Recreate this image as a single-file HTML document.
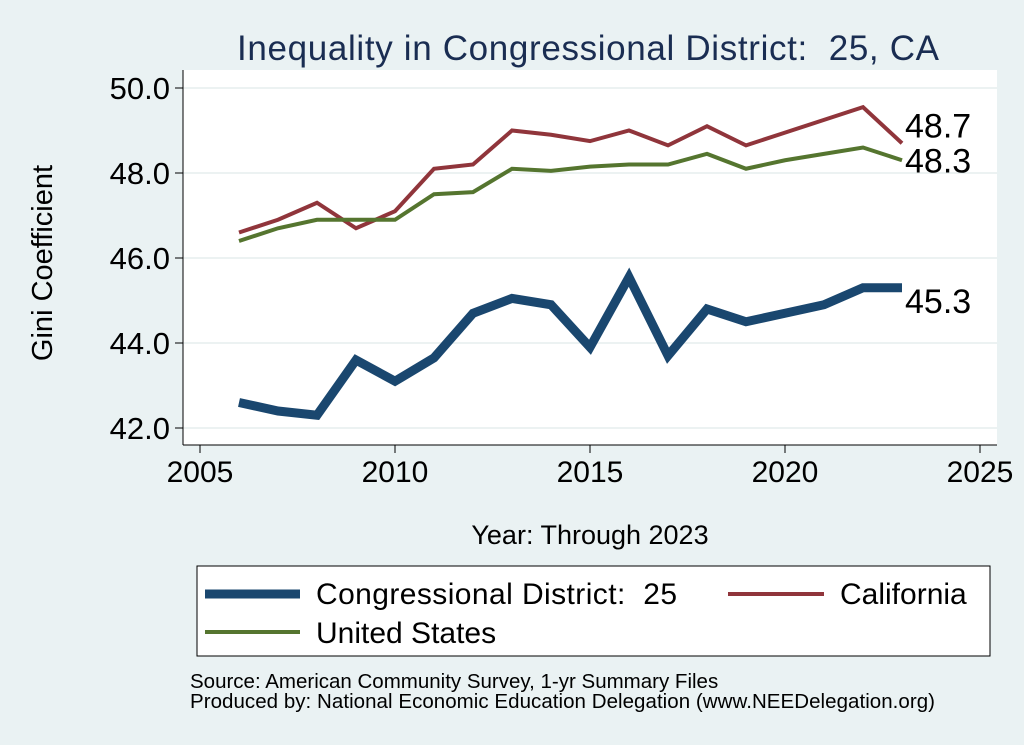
<!DOCTYPE html>
<html><head><meta charset="utf-8"><style>
body{margin:0;background:#eaf2f3;}
svg{display:block;font-family:"Liberation Sans",sans-serif;}
</style></head><body>
<svg id="c" width="1024" height="745">
<rect x="0" y="0" width="1024" height="745" fill="#eaf2f3"/>
<text x="588" y="60" font-size="35" fill="#1a2d52" text-anchor="middle" textLength="702">Inequality in Congressional District:&#160; 25, CA</text>
<rect x="183" y="70" width="814" height="375" fill="#fff"/>
<g id="grid"></g><g id="axes"></g><g id="series"></g>
<text x="52" y="263" font-size="29" fill="#000" text-anchor="middle" transform="rotate(-90 52 263)">Gini Coefficient</text>
<text x="590" y="544" font-size="27" fill="#000" text-anchor="middle">Year: Through 2023</text>
<g>
<rect x="197" y="566" width="793" height="90" fill="#fff" stroke="#000" stroke-width="1"/>
<line x1="205" y1="594" x2="300" y2="594" stroke="#1a476f" stroke-width="9"/>
<text x="316" y="604" font-size="30" textLength="361">Congressional District:&#160; 25</text>
<line x1="728" y1="594" x2="824" y2="594" stroke="#90353b" stroke-width="4"/>
<text x="840" y="604" font-size="30">California</text>
<line x1="205" y1="632" x2="300" y2="632" stroke="#55752f" stroke-width="4"/>
<text x="316" y="643" font-size="30">United States</text>
</g>
<text x="190" y="688" font-size="20.5">Source: American Community Survey, 1-yr Summary Files</text>
<text x="190" y="708" font-size="20.5" textLength="745">Produced by: National Economic Education Delegation (www.NEEDelegation.org)</text>
</svg>
<script>
const years=[2006,2007,2008,2009,2010,2011,2012,2013,2014,2015,2016,2017,2018,2019,2020,2021,2022,2023];
const cd25=[42.6,42.4,42.3,43.6,43.1,43.65,44.7,45.05,44.9,43.9,45.55,43.7,44.8,44.5,44.7,44.9,45.3,45.3];
const california=[46.6,46.9,47.3,46.7,47.1,48.1,48.2,49.0,48.9,48.75,49.0,48.65,49.1,48.65,48.95,49.25,49.55,48.7];
const unitedStates=[46.4,46.7,46.9,46.9,46.9,47.5,47.55,48.1,48.05,48.15,48.2,48.2,48.45,48.1,48.3,48.45,48.6,48.3];
const xTicks=[2005,2010,2015,2020,2025];
const yTicks=[42,44,46,48,50];
const endLabels=["45.3","48.7","48.3"];
const NS="http://www.w3.org/2000/svg";
const X=v=>200+(v-2005)*39;
const Y=v=>428-(v-42)*42.5;
function mk(t,a,p){const e=document.createElementNS(NS,t);for(const k in a)e.setAttribute(k,a[k]);document.getElementById(p).appendChild(e);return e;}
yTicks.forEach(t=>{
 const g=mk('line',{x1:183,x2:997,y1:Y(t),y2:Y(t),stroke:'#e6eeee','stroke-width':1.5},'grid');
 
 
 const k=mk('line',{x1:175,x2:183,y1:Y(t),y2:Y(t),stroke:'#000'},'axes');
 
 
 const l=mk('text',{x:170,y:Y(t)+11,'font-size':31,'text-anchor':'end'},'axes');l.textContent=t.toFixed(1);
 
 
});
xTicks.forEach(t=>{
 const k=mk('line',{x1:X(t),x2:X(t),y1:445,y2:453,stroke:'#000'},'axes');
 
 
 const l=mk('text',{x:X(t),y:482,'font-size':30,'text-anchor':'middle'},'axes');l.textContent=t;
 
 
});
const ya=mk('line',{x1:183,x2:183,y1:70,y2:445,stroke:'#000'},'axes');


const xa=mk('line',{x1:183,x2:997,y1:445,y2:445,stroke:'#000'},'axes');


const S=[[california,'#90353b',4,'california-line'],[unitedStates,'#55752f',4,'us-line'],[cd25,'#1a476f',9,'cd25-line']];
S.forEach(([d,c,w,n])=>{
 const p=mk('polyline',{points:d.map((v,i)=>X(years[i])+','+Y(v)).join(' '),fill:'none',stroke:c,'stroke-width':w,'stroke-linejoin':'miter'},'series');
 
 
});
const last=years.length-1;
[[cd25,endLabels[0],25],[california,endLabels[1],-6],[unitedStates,endLabels[2],12]].forEach(([d,t,dy],i)=>{
 const l=mk('text',{x:X(years[last])+3,y:Y(d[last])+dy,'font-size':34},'series');l.textContent=t;
 
 
});
</script>
</body></html>
